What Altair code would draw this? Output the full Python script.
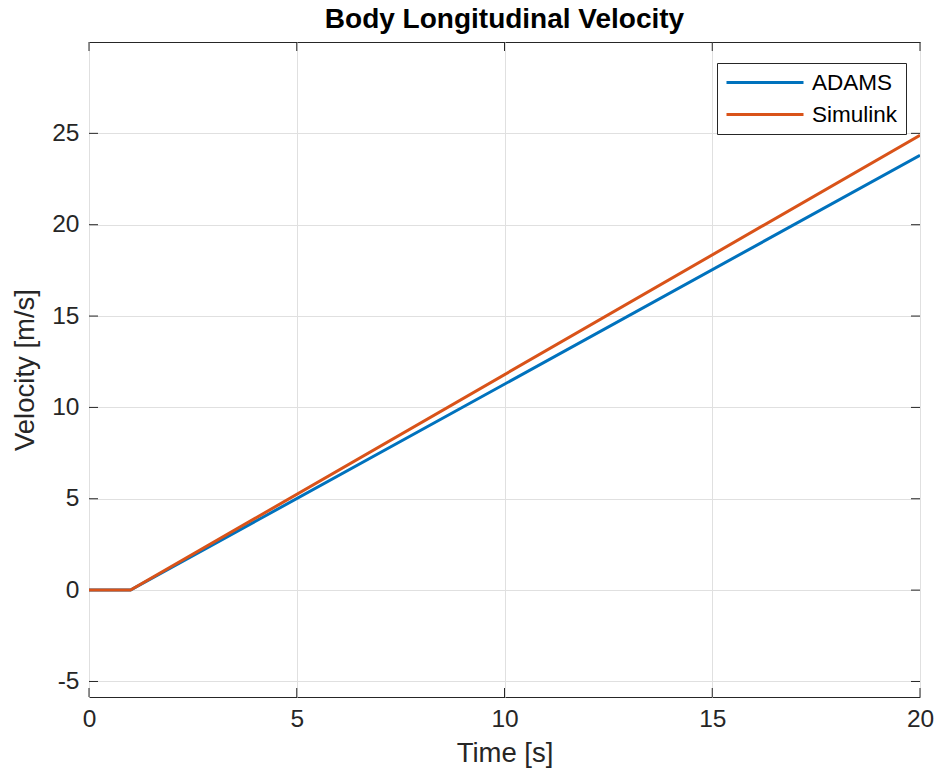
import altair as alt
import pandas as pd

# Data
time_s = [0, 1, 20]
adams_v = [0, 0, 23.8]
simulink_v = [0, 0, 24.9]
series_names = ["ADAMS", "Simulink"]
series_colors = ["#0072BD", "#D95319"]
x_ticks = [0, 5, 10, 15, 20]
y_ticks = [-5, 0, 5, 10, 15, 20, 25]
x_domain = [0, 20]
y_domain = [-5.85, 30]

df_adams = pd.DataFrame({"t": time_s, "v": adams_v, "series": "ADAMS"})
df_sim = pd.DataFrame({"t": time_s, "v": simulink_v, "series": "Simulink"})

W, H = 831, 655
FONT = "Liberation Sans"
TXT = "#262626"

xs = alt.Scale(domain=x_domain, nice=False, zero=False)
ys = alt.Scale(domain=y_domain, nice=False, zero=False)

x_enc = alt.X("t:Q", scale=xs, title="Time [s]",
              axis=alt.Axis(values=x_ticks, grid=True, ticks=False, domain=False,
                            labelFlush=False, labelExpr="'' + datum.value"))
y_enc = alt.Y("v:Q", scale=ys, title="Velocity [m/s]",
              axis=alt.Axis(values=y_ticks, grid=True, ticks=False, domain=False,
                            labelFlush=False, labelExpr="'' + datum.value"))
c_enc = alt.Color("series:N",
                  scale=alt.Scale(domain=series_names, range=series_colors),
                  legend=alt.Legend(title=None, orient="none", legendX=628, legendY=21,
                                    symbolType="M-1,0H6.7", symbolSize=400,
                                    symbolStrokeWidth=3, symbolFillColor="transparent",
                                    labelFontSize=22.5,
                                    labelFont=FONT, labelColor="#000000",
                                    strokeColor="#262626", fillColor="white",
                                    padding=8, rowPadding=9, labelOffset=64,
                                    cornerRadius=0))

adams = alt.Chart(df_adams).mark_line(strokeWidth=3, clip=True).encode(
    x=x_enc, y=y_enc, color=c_enc)
sim = alt.Chart(df_sim).mark_line(strokeWidth=3, clip=True).encode(
    x=x_enc, y=y_enc, color=c_enc)

# inward tick marks on all four sides
xt_len = 9 / (W / (x_domain[1] - x_domain[0]))
yt_len = 9 / (H / (y_domain[1] - y_domain[0]))
tick_rows = []
for x in x_ticks:
    tick_rows.append({"x": x, "x2": x, "y": y_domain[0], "y2": y_domain[0] + yt_len})
    tick_rows.append({"x": x, "x2": x, "y": y_domain[1], "y2": y_domain[1] - yt_len})
for y in y_ticks:
    tick_rows.append({"x": x_domain[0], "x2": x_domain[0] + xt_len, "y": y, "y2": y})
    tick_rows.append({"x": x_domain[1], "x2": x_domain[1] - xt_len, "y": y, "y2": y})
ticks_df = pd.DataFrame(tick_rows)
ticks = alt.Chart(ticks_df).mark_rule(color=TXT, strokeWidth=1).encode(
    x=alt.X("x:Q", scale=xs), x2="x2:Q",
    y=alt.Y("y:Q", scale=ys), y2="y2:Q",
)

chart = alt.layer(ticks, adams, sim).properties(
    width=W, height=H,
    background="white",
    title=alt.TitleParams("Body Longitudinal Velocity", fontSize=28, font=FONT,
                          fontWeight="bold", color="#000000", offset=8),
    autosize=alt.AutoSizeParams(type="none"),
    padding={"left": 89, "top": 42, "right": 18, "bottom": 83},
).configure_view(
    stroke=TXT, strokeWidth=1, fill="white"
).configure_axis(
    gridColor="#e0e0e0", gridWidth=1, labelFont=FONT, labelFontSize=24.5,
    labelColor=TXT, titleFont=FONT, titleFontSize=27.5, titleColor=TXT,
    titleFontWeight="normal", labelPadding=10,
).configure_axisX(
    titlePadding=9,
).configure_axisY(
    titlePadding=12,
)

chart.save("out.html", embed_options={"renderer": "svg", "actions": False})
